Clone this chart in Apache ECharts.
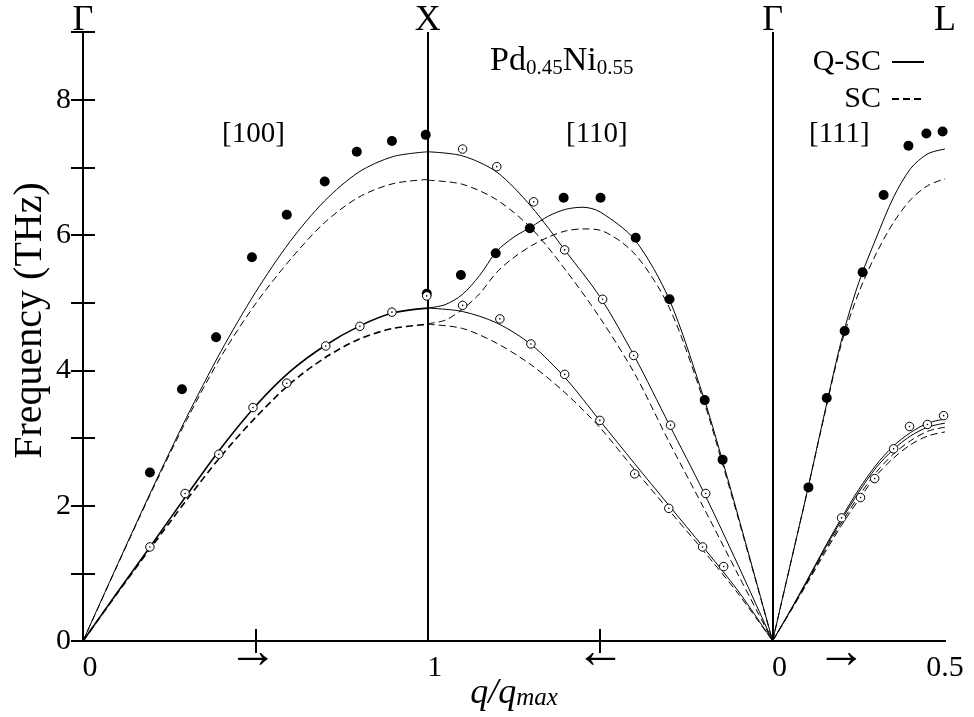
<!DOCTYPE html>
<html>
<head>
<meta charset="utf-8">
<script src="https://cdn.jsdelivr.net/npm/echarts@6/dist/echarts.min.js"></script>
<style>
  html, body { margin: 0; background: #fff; }
  #chart { width: 974px; height: 717px; }
</style>
</head>
<body>
<div id="chart"></div>
<script>
// path coordinate: 0..1 = Gamma-X [100], 1..2 = X-Gamma [110], 2..2.5 = Gamma-L [111]
const xs100 = [0, 0.1, 0.2, 0.3, 0.4, 0.5, 0.6, 0.7, 0.8, 0.9, 1.0]
const L100qsc = [0, 1.13, 2.24, 3.3, 4.28, 5.15, 5.9, 6.5, 6.93, 7.16, 7.23]
const L100sc = [0, 1.12, 2.22, 3.26, 4.2, 4.98, 5.63, 6.18, 6.56, 6.76, 6.82]
const T100qsc = [0, 0.72, 1.43, 2.15, 2.85, 3.47, 3.98, 4.36, 4.65, 4.85, 4.92]
const T100sc = [0, 0.71, 1.4, 2.08, 2.73, 3.3, 3.8, 4.18, 4.46, 4.62, 4.68]

const xs110 = [1.0, 1.1, 1.2, 1.3, 1.4, 1.5, 1.6, 1.7, 1.8, 1.9, 2.0]
const T1110qsc = [7.23, 7.17, 6.93, 6.42, 5.76, 5.08, 4.2, 3.2, 2.2, 1.12, 0]
const T1110sc = [6.81, 6.75, 6.52, 6.1, 5.48, 4.77, 3.95, 2.94, 1.97, 0.98, 0]
const T2110qsc = [4.92, 4.87, 4.7, 4.38, 3.88, 3.25, 2.62, 2.0, 1.38, 0.74, 0]
const T2110sc = [4.68, 4.62, 4.4, 4.08, 3.66, 3.15, 2.53, 1.93, 1.33, 0.7, 0]

const xsL110 = [1.0, 1.05, 1.1, 1.15, 1.2, 1.25, 1.3, 1.35, 1.4, 1.45, 1.5, 1.6, 1.7, 1.8, 1.85, 1.9, 2.0]
const L110qsc = [4.92, 4.97, 5.12, 5.4, 5.76, 5.97, 6.12, 6.28, 6.38, 6.41, 6.34, 5.93, 5.05, 3.6, 2.75, 1.85, 0]
const L110sc = [4.69, 4.74, 4.9, 5.13, 5.45, 5.67, 5.84, 5.97, 6.06, 6.09, 6.07, 5.72, 4.93, 3.55, 2.7, 1.82, 0]

const xs111 = [2.0, 2.05, 2.1, 2.15, 2.2, 2.25, 2.3, 2.35, 2.4, 2.45, 2.5]
const L111qsc = [0, 1.1, 2.2, 3.35, 4.45, 5.3, 5.95, 6.55, 6.98, 7.2, 7.27]
const L111sc = [0, 1.1, 2.2, 3.33, 4.4, 5.15, 5.72, 6.18, 6.52, 6.73, 6.83]
const T111qscA = [0, 0.44, 0.9, 1.37, 1.82, 2.24, 2.6, 2.88, 3.08, 3.22, 3.28]
const T111qscB = [0, 0.43, 0.88, 1.35, 1.79, 2.2, 2.56, 2.83, 3.03, 3.16, 3.22]
const T111scA = [0, 0.43, 0.87, 1.32, 1.75, 2.14, 2.49, 2.76, 2.96, 3.1, 3.16]
const T111scB = [0, 0.42, 0.85, 1.29, 1.71, 2.09, 2.44, 2.7, 2.9, 3.03, 3.09]

// experiment (filled / open circles)
const filledX = [0.194, 0.287, 0.386, 0.49, 0.591, 0.701, 0.794, 0.896, 0.994, 0.997,
  1.096, 1.197, 1.296, 1.394, 1.501, 1.603, 1.701, 1.803, 1.855,
  2.104, 2.157, 2.209, 2.261, 2.322, 2.394, 2.446, 2.493]
const filledY = [2.49, 3.72, 4.49, 5.67, 6.3, 6.79, 7.23, 7.39, 7.48, 5.13,
  5.41, 5.73, 6.1, 6.55, 6.55, 5.96, 5.05, 3.56, 2.68,
  2.27, 3.59, 4.58, 5.45, 6.59, 7.32, 7.5, 7.53]
const openX = [0.194, 0.296, 0.394, 0.493, 0.591, 0.704, 0.803, 0.896, 0.997,
  1.101, 1.2, 1.307, 1.397, 1.507, 1.597, 1.704, 1.806,
  1.101, 1.209, 1.299, 1.397, 1.499, 1.6, 1.699, 1.797, 1.858,
  2.2, 2.255, 2.296, 2.351, 2.397, 2.449, 2.496]
const openY = [1.39, 2.18, 2.76, 3.45, 3.81, 4.36, 4.65, 4.86, 5.1,
  7.27, 7.01, 6.49, 5.78, 5.05, 4.22, 3.19, 2.18,
  4.96, 4.76, 4.39, 3.94, 3.26, 2.47, 1.96, 1.39, 1.1,
  1.82, 2.12, 2.4, 2.84, 3.17, 3.2, 3.33]

const botLabelPos = [0.02, 0.493, 1.02, 1.501, 2.02, 2.2, 2.5]
const botLabelText = ['0', '→', '1', '←', '0', '→', '0.5']
const topLabelPos = [0, 1, 2, 2.5]
const topLabelText = ['Γ', 'X', 'Γ', 'L']

const serif = "'Liberation Serif', 'DejaVu Serif', serif"

function pairs(xs, ys) {
  return xs.map((x, i) => [x, ys[i]])
}
function curve(name, xs, ys, width) {
  return {
    name: name,
    type: 'line',
    data: pairs(xs, ys),
    symbol: 'none',
    smooth: 0.3,
    itemStyle: { color: '#000' },
    lineStyle: {
      color: '#000',
      width: width || 1,
      type: name === 'SC' ? [7, 4] : 'solid'
    },
    z: 2
  }
}
function pick(pos, text, v) {
  const i = pos.findIndex(p => Math.abs(p - v) < 1e-6)
  return i < 0 ? '' : text[i]
}

const chart = echarts.init(document.getElementById('chart'))

const series = [
  curve('Q-SC', xs100, L100qsc),
  curve('SC', xs100, L100sc),
  curve('Q-SC', xs100, T100qsc, 1.6),
  curve('SC', xs100, T100sc, 1.6),
  curve('Q-SC', xs110, T1110qsc),
  curve('SC', xs110, T1110sc),
  curve('Q-SC', xsL110, L110qsc),
  curve('SC', xsL110, L110sc),
  curve('Q-SC', xs110, T2110qsc),
  curve('SC', xs110, T2110sc),
  curve('Q-SC', xs111, L111qsc),
  curve('SC', xs111, L111sc),
  curve('Q-SC', xs111, T111qscA),
  curve('Q-SC', xs111, T111qscB),
  curve('SC', xs111, T111scA),
  curve('SC', xs111, T111scB),
  {
    name: 'expFilled',
    type: 'scatter',
    data: pairs(filledX, filledY),
    symbol: 'circle',
    symbolSize: 10,
    itemStyle: { color: '#000', opacity: 1 },
    z: 5
  },
  {
    name: 'expOpen',
    type: 'scatter',
    data: pairs(openX, openY),
    symbol: 'circle',
    symbolSize: 8.5,
    itemStyle: { color: '#fff', borderColor: '#000', borderWidth: 1, opacity: 1 },
    z: 5
  },
  {
    name: 'expOpenDot',
    type: 'scatter',
    data: pairs(openX, openY),
    symbol: 'circle',
    symbolSize: 1.6,
    itemStyle: { color: '#000', opacity: 1 },
    z: 6,
    // X and Gamma boundaries
    markLine: {
      silent: true,
      symbol: ['none', 'none'],
      label: { show: false },
      lineStyle: { color: '#000', width: 2, type: 'solid' },
      data: [{ xAxis: 1 }, { xAxis: 2 }]
    }
  }
]

chart.setOption({
  animation: false,
  backgroundColor: '#fff',
  textStyle: { fontFamily: serif, color: '#000' },
  grid: { left: 83, right: 29, top: 32, bottom: 76, outerBoundsMode: 'none' },
  legend: {
    data: ['Q-SC', 'SC'],
    orient: 'vertical',
    align: 'right',
    right: 49,
    top: 47,
    padding: 0,
    itemWidth: 32,
    itemHeight: 10,
    itemGap: 7,
    itemStyle: { opacity: 0 },
    textStyle: { fontFamily: serif, fontSize: 30, color: '#000', lineHeight: 30, padding: [0, 6, 0, 0] }
  },
  graphic: [
    {
      type: 'text',
      left: 490,
      top: 44,
      style: {
        text: '{a|Pd}{s|0.45}{a|Ni}{s|0.55}',
        rich: {
          a: { fontFamily: serif, fontSize: 34, lineHeight: 36, fill: '#000' },
          s: { fontFamily: serif, fontSize: 21, lineHeight: 16, verticalAlign: 'bottom', fill: '#000' }
        }
      }
    },
    { type: 'text', left: 222, top: 120, style: { text: '[100]', fontFamily: serif, fontSize: 29, fill: '#000' } },
    { type: 'text', left: 566, top: 120, style: { text: '[110]', fontFamily: serif, fontSize: 29, fill: '#000' } },
    { type: 'text', left: 809, top: 120, style: { text: '[111]', fontFamily: serif, fontSize: 29, fill: '#000' } }
  ],
  xAxis: [
    {
      type: 'value',
      position: 'bottom',
      min: 0,
      max: 2.5,
      axisLine: { lineStyle: { color: '#000', width: 2 } },
      axisTick: { inside: true, length: 12, customValues: [0.5, 1.5], lineStyle: { color: '#000', width: 2 } },
      axisLabel: {
        customValues: botLabelPos,
        margin: 12,
        fontFamily: serif,
        fontSize: 30,
        color: '#000',
        formatter: v => {
          const t = pick(botLabelPos, botLabelText, v)
          return t === '→' || t === '←' ? '{ar|' + t + '}' : t
        },
        rich: { ar: { fontFamily: serif, fontSize: 50, lineHeight: 1, color: '#000' } }
      },
      splitLine: { show: false },
      name: '{i|q/q}{s|max}',
      nameLocation: 'middle',
      nameGap: 36,
      nameMoveOverlap: false,
      nameTextStyle: {
        rich: {
          i: { fontFamily: serif, fontStyle: 'italic', fontSize: 36, lineHeight: 34, color: '#000' },
          s: { fontFamily: serif, fontStyle: 'italic', fontSize: 25, lineHeight: 16, verticalAlign: 'bottom', color: '#000' }
        }
      }
    },
    {
      type: 'value',
      position: 'top',
      min: 0,
      max: 2.5,
      axisLine: { lineStyle: { color: '#000', width: 2 } },
      axisTick: { inside: true, length: 12, customValues: [0.5, 1.5], lineStyle: { color: '#000', width: 2 } },
      axisLabel: {
        customValues: topLabelPos,
        margin: -7,
        fontFamily: serif,
        fontSize: 36,
        color: '#000',
        formatter: v => pick(topLabelPos, topLabelText, v)
      },
      splitLine: { show: false }
    }
  ],
  yAxis: [
    {
      type: 'value',
      position: 'left',
      min: 0,
      max: 9,
      interval: 1,
      axisLine: { show: true, lineStyle: { color: '#000', width: 2 } },
      axisTick: { inside: true, length: 12, lineStyle: { color: '#000', width: 2 } },
      axisLabel: {
        margin: 12,
        fontFamily: serif,
        fontSize: 30,
        color: '#000',
        formatter: v => (v % 2 === 0 && v < 9 ? String(v) : '')
      },
      splitLine: { show: false },
      name: 'Frequency (THz)',
      nameLocation: 'middle',
      nameGap: 33,
      nameMoveOverlap: false,
      nameTextStyle: { fontFamily: serif, fontSize: 40, color: '#000', padding: [0, 0, 0, 32] }
    },
    {
      type: 'value',
      position: 'right',
      min: 0,
      max: 9,
      interval: 1,
      axisLine: { show: true, lineStyle: { color: '#000', width: 2 } },
      axisTick: { inside: true, length: 12, lineStyle: { color: '#000', width: 2 } },
      axisLabel: { show: false },
      splitLine: { show: false }
    }
  ],
  series: series
})
</script>
</body>
</html>
